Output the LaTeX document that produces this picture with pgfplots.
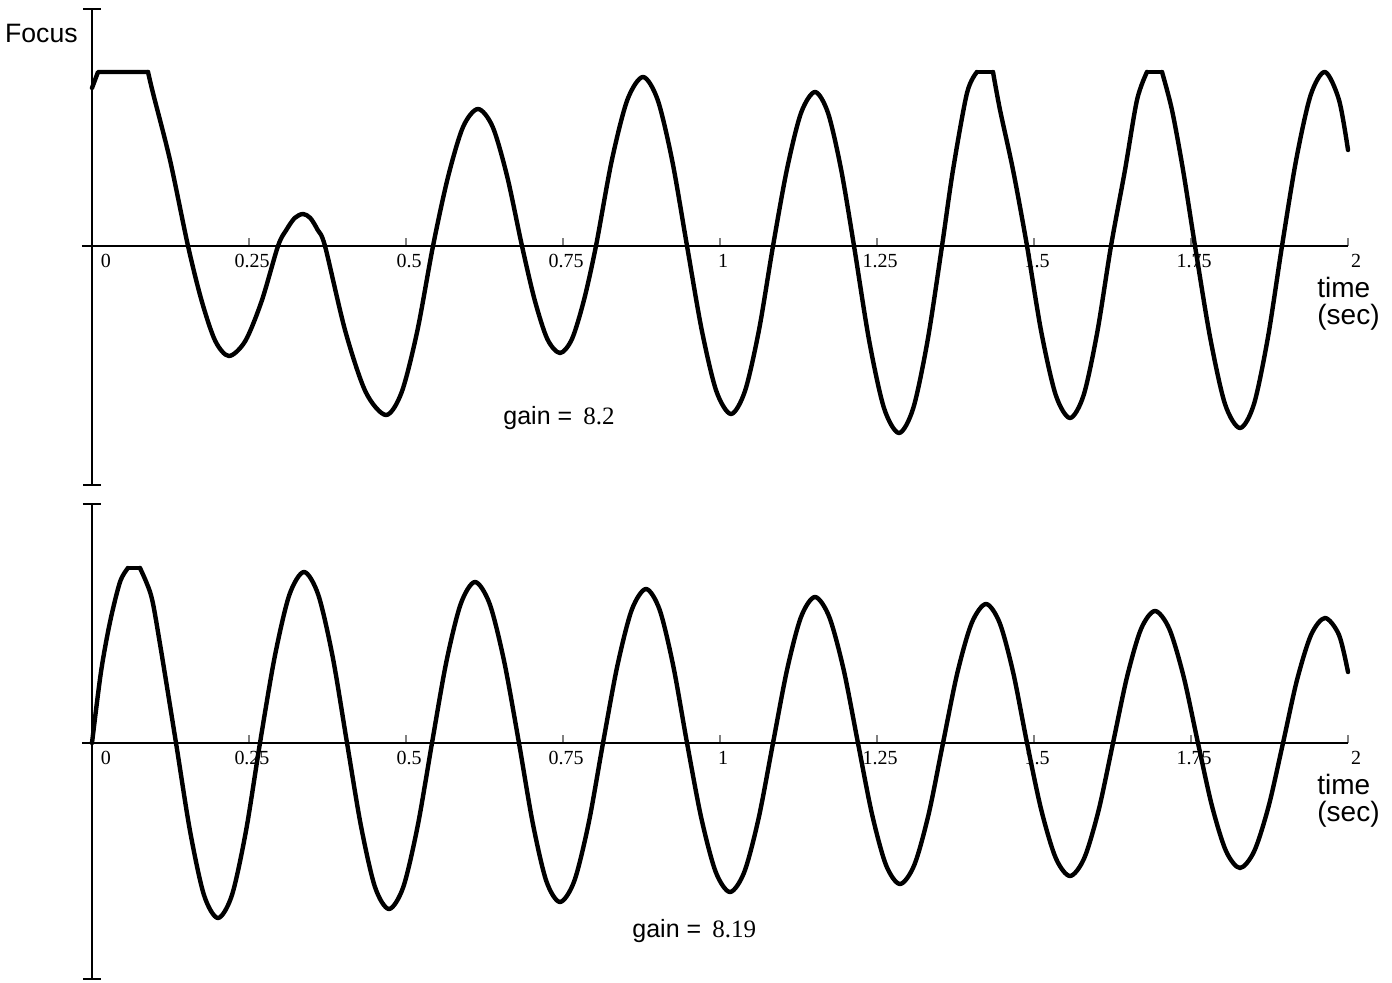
\documentclass[border=0pt]{standalone}
\usepackage{fontspec}
\setmainfont{Liberation Serif}
\newfontfamily\arial{Liberation Sans}
\usepackage{pgfplots}
\pgfplotsset{compat=1.18}
\usetikzlibrary{arrows.meta}

\pgfplotsset{
  panel/.style={
    x=314pt, y=0.5pt, xmin=-0.016, xmax=2,
    axis lines*=middle, clip=false,
    hide obscured x ticks=false,
    axis line style={line width=0.9pt},
    y axis line style={arrows={Bar[width=9pt]-Bar[width=9pt]}},
    ytick=\empty,
    xtick={0,0.25,0.5,0.75,1,1.25,1.5,1.75,2},
    xticklabels={\rlap{\hspace{3pt}0},0.25,0.5,0.75,1,1.25,1.5,1.75,\rlap{2}},
    tick align=center, major tick length=4pt,
    x tick style={line width=0.8pt, yshift=2pt},
    xticklabel style={font=\fontsize{10}{11}\selectfont, anchor=north, xshift=1.5pt, yshift=1.5pt},
    /pgf/number format/assume math mode=true,
  },
  wave/.style={black, line width=2.2pt, line join=round, line cap=round, mark=none},
}

\begin{document}
\begin{tikzpicture}
\path[use as bounding box] (-46pt,-368.5pt) rectangle (650pt,123pt);

% gain = 8.2
\begin{axis}[panel, at={(0,0)}, anchor=origin, ymin=-240, ymax=238]
\addplot[wave, sharp plot] coordinates {(0,158) (0.0096,174) (0.0892,174)};
\addplot[wave, smooth] coordinates {
 (0.0892,174) (0.0971,153) (0.1242,86) (0.1529,0)
 (0.1747,-55) (0.1963,-95) (0.2182,-110) (0.2441,-95) (0.2702,-55) (0.2962,0)
 (0.3094,16) (0.3228,28) (0.3360,32) (0.3476,28) (0.3594,16) (0.3710,0)
 (0.4033,-85) (0.4358,-146) (0.4682,-169) (0.4932,-146) (0.5180,-85) (0.5430,0)
 (0.5669,69) (0.5908,119) (0.6146,137) (0.6381,119) (0.6613,69) (0.6847,0)
 (0.7049,-54) (0.7250,-93) (0.7452,-107) (0.7643,-93) (0.7834,-54) (0.8025,0)
 (0.8275,85) (0.8524,146) (0.8774,169) (0.9008,146) (0.9240,85) (0.9475,0)
 (0.9709,-84) (0.9941,-145) (1.0175,-168) (1.0398,-145) (1.0621,-84) (1.0844,0)
 (1.1067,77) (1.1290,133) (1.1513,154) (1.1720,133) (1.1927,77) (1.2134,0)
 (1.2373,-94) (1.2611,-162) (1.2850,-187) (1.3078,-162) (1.3307,-94) (1.3535,0)
 (1.3710,76) (1.3933,153) (1.4092,174)};
\addplot[wave, sharp plot] coordinates {(1.4092,174) (1.4347,174)};
\addplot[wave, smooth] coordinates {
 (1.4347,174) (1.4459,136) (1.4666,76) (1.4889,0)
 (1.5116,-86) (1.5346,-149) (1.5573,-172) (1.5791,-149) (1.6008,-86) (1.6226,0)
 (1.6449,76) (1.6640,146) (1.6799,174)};
\addplot[wave, sharp plot] coordinates {(1.6799,174) (1.7038,174)};
\addplot[wave, smooth] coordinates {
 (1.7038,174) (1.7197,136) (1.7373,76) (1.7564,0)
 (1.7803,-91) (1.8041,-158) (1.8280,-182) (1.8503,-158) (1.8726,-91) (1.8949,0)
 (1.9177,87) (1.9406,151) (1.9634,174) (1.9857,146) (2.0,96)};
\node[font=\arial\fontsize{13.3}{15}\selectfont, anchor=base east, inner sep=0pt] at (axis cs:-0.0223,203) {Focus};
\node[font=\arial\fontsize{14}{13.5}\selectfont, anchor=base west, align=left, inner sep=0pt] at (axis cs:1.9506,-79) {time\\(sec)};
\node[anchor=base west, inner sep=0pt, font=\fontsize{12.5}{14}\selectfont] at (axis cs:0.6545,-179) {{\arial gain =}\hspace{2.5pt} 8.2};
\end{axis}

% gain = 8.19
\begin{axis}[panel, at={(0,-248.5pt)}, anchor=origin, ymin=-237, ymax=240]
\addplot[wave, smooth] coordinates {(0,0) (0.0143,71) (0.0287,121) (0.0446,161) (0.0573,175)};
\addplot[wave, sharp plot] coordinates {(0.0573,175) (0.0764,175)};
\addplot[wave, smooth] coordinates {
 (0.0764,175) (0.0939,148) (0.1067,105) (0.1338,0)
 (0.1561,-88) (0.1783,-152) (0.2006,-175) (0.2229,-152) (0.2452,-88) (0.2675,0)
 (0.2909,86) (0.3142,148) (0.3376,171) (0.3604,148) (0.3833,86) (0.4061,0)
 (0.4283,-83) (0.4506,-144) (0.4729,-166) (0.4957,-144) (0.5186,-83) (0.5414,0)
 (0.5642,81) (0.5871,139) (0.6099,161) (0.6333,139) (0.6565,81) (0.6799,0)
 (0.7018,-80) (0.7234,-138) (0.7452,-159) (0.7680,-138) (0.7909,-80) (0.8137,0)
 (0.8365,77) (0.8594,133) (0.8822,154) (0.9040,133) (0.9256,77) (0.9475,0)
 (0.9702,-75) (0.9932,-129) (1.0159,-149) (1.0387,-129) (1.0616,-75) (1.0844,0)
 (1.1067,73) (1.1290,126) (1.1513,146) (1.1740,126) (1.1970,73) (1.2197,0)
 (1.2420,-71) (1.2643,-122) (1.2866,-141) (1.3094,-122) (1.3323,-71) (1.3551,0)
 (1.3779,70) (1.4008,120) (1.4236,139) (1.4454,120) (1.4670,70) (1.4889,0)
 (1.5116,-67) (1.5346,-115) (1.5573,-133) (1.5801,-115) (1.6030,-67) (1.6258,0)
 (1.6481,66) (1.6704,114) (1.6927,132) (1.7155,114) (1.7384,66) (1.7611,0)
 (1.7834,-63) (1.8057,-108) (1.8280,-125) (1.8508,-108) (1.8737,-63) (1.8965,0)
 (1.9188,63) (1.9411,108) (1.9634,125) (1.9857,108) (2.0,71)};
\node[font=\arial\fontsize{14}{13.5}\selectfont, anchor=base west, align=left, inner sep=0pt] at (axis cs:1.9506,-79) {time\\(sec)};
\node[anchor=base west, inner sep=0pt, font=\fontsize{12.5}{14}\selectfont] at (axis cs:0.8599,-194) {{\arial gain =}\hspace{2.5pt} 8.19};
\end{axis}
\end{tikzpicture}
\end{document}
